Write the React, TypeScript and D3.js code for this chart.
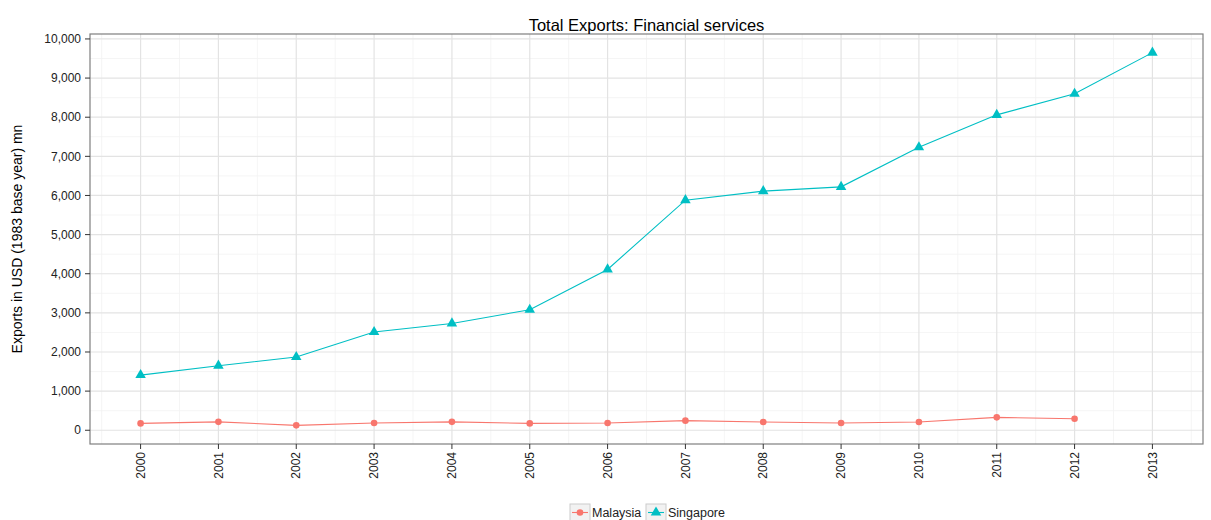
import React from "react";
import * as d3 from "d3";

const years = [2000, 2001, 2002, 2003, 2004, 2005, 2006, 2007, 2008, 2009, 2010, 2011, 2012, 2013];
const malaysia = [175, 215, 125, 185, 215, 175, 185, 245, 210, 185, 210, 330, 295, null];
const singapore = [1410, 1650, 1870, 2510, 2730, 3080, 4110, 5880, 6110, 6220, 7230, 8060, 8600, 9650];
const yTicks = [0, 1000, 2000, 3000, 4000, 5000, 6000, 7000, 8000, 9000, 10000];
const seriesNames = ["Malaysia", "Singapore"];
const colors = ["#F8766D", "#00BFC4"];

const W = 1211;
const H = 520;
const panel = { left: 90, right: 1203, top: 34, bottom: 444 };

export default function App() {
  const x = d3.scaleLinear().domain([2000 - 0.65, 2013 + 0.65]).range([panel.left, panel.right]);
  const y = d3.scaleLinear().domain([125 - 0.05 * 9525, 9650 + 0.05 * 9525]).range([panel.bottom, panel.top]);
  const fmt = d3.format(",");
  const minorY = yTicks.slice(0, -1).map((t) => t + 500).concat([-500, 10500]).filter((v) => y(v) > panel.top && y(v) < panel.bottom);
  const minorX = [1999.5, ...years.map((v) => v + 0.5)].filter((v) => x(v) > panel.left && x(v) < panel.right);

  const mk = (vals: (number | null)[]) =>
    years.map((yr, i) => ({ yr, v: vals[i] })).filter((d) => d.v !== null) as { yr: number; v: number }[];
  const series = [mk(malaysia), mk(singapore)];
  const line = d3.line<{ yr: number; v: number }>().x((d) => x(d.yr)).y((d) => y(d.v));
  const tri = d3.symbol().type(d3.symbolTriangle).size(48)() as string;
  const font = "Arial, 'Liberation Sans', sans-serif";

  return (
    <svg width={W} height={H} style={{ position: "absolute", left: 0, top: 0, background: "#fff" }} fontFamily={font}>
      <rect x={panel.left} y={panel.top} width={panel.right - panel.left} height={panel.bottom - panel.top} fill="#fff" />
      {minorY.map((v) => (
        <line key={"my" + v} x1={panel.left} x2={panel.right} y1={y(v)} y2={y(v)} stroke="#f2f2f2" strokeWidth={0.8} />
      ))}
      {minorX.map((v) => (
        <line key={"mx" + v} y1={panel.top} y2={panel.bottom} x1={x(v)} x2={x(v)} stroke="#f2f2f2" strokeWidth={0.8} />
      ))}
      {yTicks.map((v) => (
        <line key={"gy" + v} x1={panel.left} x2={panel.right} y1={y(v)} y2={y(v)} stroke="#e3e3e3" strokeWidth={1.2} />
      ))}
      {years.map((v) => (
        <line key={"gx" + v} y1={panel.top} y2={panel.bottom} x1={x(v)} x2={x(v)} stroke="#e3e3e3" strokeWidth={1.2} />
      ))}
      {series.map((s, i) => (
        <path key={"l" + i} d={line(s) as string} fill="none" stroke={colors[i]} strokeWidth={1.1} />
      ))}
      {series[0].map((d) => (
        <circle key={"p0" + d.yr} cx={x(d.yr)} cy={y(d.v)} r={3.3} fill={colors[0]} />
      ))}
      {series[1].map((d) => (
        <path key={"p1" + d.yr} d={tri} transform={`translate(${x(d.yr)},${y(d.v)})`} fill={colors[1]} />
      ))}
      <rect x={panel.left} y={panel.top} width={panel.right - panel.left} height={panel.bottom - panel.top} fill="none" stroke="#7f7f7f" strokeWidth={1.2} />
      {yTicks.map((v) => (
        <g key={"ty" + v}>
          <line x1={panel.left - 5} x2={panel.left} y1={y(v)} y2={y(v)} stroke="#333" strokeWidth={1} />
          <text x={panel.left - 9} y={y(v)} dy="0.35em" textAnchor="end" fontSize={12} fill="#222">
            {fmt(v)}
          </text>
        </g>
      ))}
      {years.map((v) => (
        <g key={"tx" + v}>
          <line y1={panel.bottom} y2={panel.bottom + 5} x1={x(v)} x2={x(v)} stroke="#333" strokeWidth={1} />
          <text transform={`translate(${x(v)},${panel.bottom + 8}) rotate(-90)`} dy="0.35em" textAnchor="end" fontSize={12} fill="#222">
            {v}
          </text>
        </g>
      ))}
      <text x={(panel.left + panel.right) / 2} y={31} textAnchor="middle" fontSize={16.5} fill="#000">
        Total Exports: Financial services
      </text>
      <text transform={`translate(22,${(panel.top + panel.bottom) / 2}) rotate(-90)`} textAnchor="middle" fontSize={14} fill="#000">
        Exports in USD (1983 base year) mn
      </text>
      {seriesNames.map((n, i) => {
        const kx = i === 0 ? 570 : 646;
        const ky = 504;
        return (
          <g key={"lg" + n}>
            <rect x={kx} y={ky} width={20} height={17} fill="#f2f2f2" stroke="#cccccc" strokeWidth={1} />
            <line x1={kx + 2} x2={kx + 18} y1={ky + 8.5} y2={ky + 8.5} stroke={colors[i]} strokeWidth={1.1} />
            {i === 0 ? (
              <circle cx={kx + 10} cy={ky + 8.5} r={3.3} fill={colors[0]} />
            ) : (
              <path d={tri} transform={`translate(${kx + 10},${ky + 8.5})`} fill={colors[1]} />
            )}
            <text x={kx + 22} y={ky + 8.5} dy="0.35em" fontSize={12.5} fill="#222">
              {n}
            </text>
          </g>
        );
      })}
    </svg>
  );
}
